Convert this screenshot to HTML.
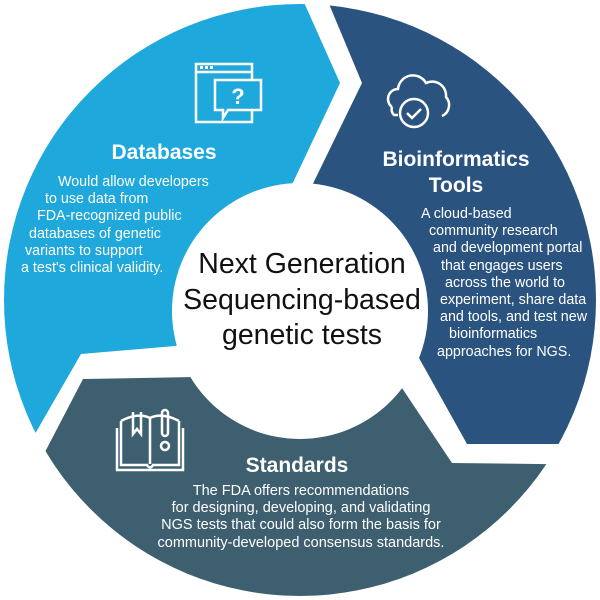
<!DOCTYPE html>
<html><head><meta charset="utf-8"><style>
html,body{margin:0;padding:0;background:#fff;width:600px;height:600px;overflow:hidden}
svg{display:block}
text{font-family:"Liberation Sans",Arial,sans-serif;fill:#fff}
</style></head><body>
<svg width="600" height="600" viewBox="0 0 600 600">
<defs><clipPath id="oc"><circle cx="300" cy="300" r="296"/></clipPath></defs>
<g clip-path="url(#oc)">
<polygon fill="#1fa8dc" points="294,-20 340,83 280,210 300,310 175,346 81,354 20,460 -20,460 -20,-20"/>
<polygon fill="#2b5380" points="319,-20 362,83 305,200 300,310 419,358 467,444 620,444 620,-20"/>
<polygon fill="#3e5f70" points="300,310 400,385 452,463 620,465 620,620 -20,620 20,500 83,379 195,377"/>
</g>
<circle cx="300" cy="311" r="128" fill="#fff"/>
<g fill="none" stroke="#fff" stroke-width="2.5">
<rect x="196" y="64" width="56" height="58"/>
<line x1="196" y1="72" x2="252" y2="72"/>
<path d="M215 80 h46 v30 h-33 l-5 8 v-8 h-8 z" fill="#1fa8dc"/>
<path d="M392 107 a10 10 0 0 1 6-18 a15 15 0 0 1 28-6 a14 14 0 0 1 20 14 a12 12 0 0 1-4 19 M398 115 h-4 a8 8 0 0 1-2-8"/>
<circle cx="414" cy="113" r="14" fill="#2b5380"/>
<path d="M407 113 l5 5 l9-9"/>
<path d="M117 428 v42 h66 v-42 M121 421 v44 h26 q3 5 6 0 h26 v-44 M150 418 v46 M150 418 q-12 -6 -29 3 M150 418 q12 -6 29 3"/>
<path d="M133 412 v22 l4 -5 l4 5 v-22" />
<rect x="162" y="410" width="6" height="26" rx="3"/>
<circle cx="165" cy="446" r="4"/>
</g>
<g fill="#fff"><rect x="200" y="66" width="3" height="3"/><rect x="205" y="66" width="3" height="3"/><rect x="210" y="66" width="3" height="3"/></g>
<text x="238" y="104" font-size="22" font-weight="bold" text-anchor="middle">?</text>
<g font-weight="bold" font-size="21" text-anchor="middle">
<text x="164" y="159">Databases</text>
<text x="456" y="166">Bioinformatics</text>
<text x="456" y="192">Tools</text>
<text x="297" y="472">Standards</text>
</g>
<g font-size="14.3">
<text x="58" y="186">Would allow developers</text>
<text x="45" y="203">to use data from</text>
<text x="37" y="220">FDA-recognized public</text>
<text x="29" y="238">databases of genetic</text>
<text x="25" y="255">variants to support</text>
<text x="21" y="272">a test's clinical validity.</text>
<text x="421" y="218">A cloud-based</text>
<text x="429" y="235">community research</text>
<text x="433" y="252">and development portal</text>
<text x="441" y="270">that engages users</text>
<text x="445" y="287">across the world to</text>
<text x="440" y="304">experiment, share data</text>
<text x="440" y="321">and tools, and test new</text>
<text x="449" y="338">bioinformatics</text>
<text x="437" y="356">approaches for NGS.</text>
</g>
<g font-size="14.5" text-anchor="middle">
<text x="301" y="495">The FDA offers recommendations</text>
<text x="301" y="512">for designing, developing, and validating</text>
<text x="301" y="529">NGS tests that could also form the basis for</text>
<text x="301" y="547">community-developed consensus standards.</text>
</g>
<g font-size="28.5" text-anchor="middle">
<text x="302" y="273" style="fill:#111">Next Generation</text>
<text x="302" y="309" style="fill:#111">Sequencing-based</text>
<text x="302" y="344" style="fill:#111">genetic tests</text>
</g>
</svg>
</body></html>
